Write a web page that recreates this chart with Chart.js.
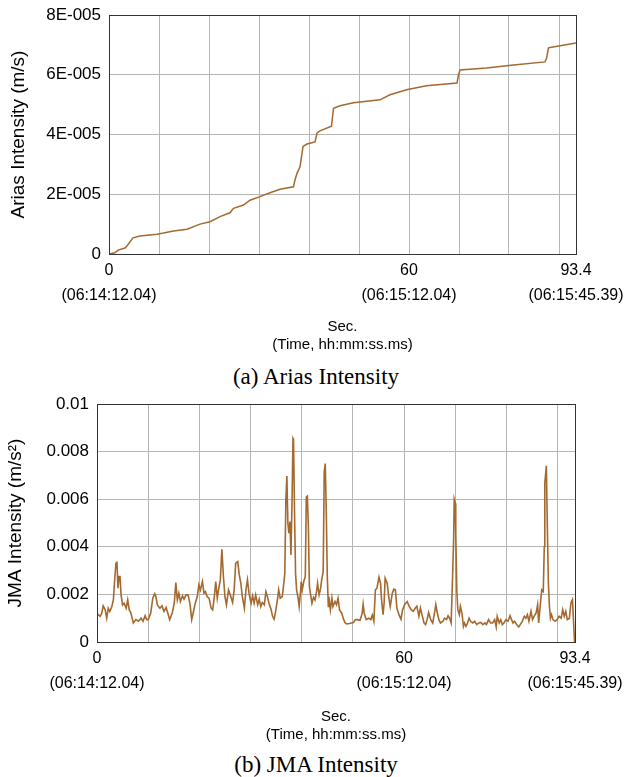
<!DOCTYPE html>
<html>

<head>
    <meta charset="utf-8">
    <title>Arias / JMA Intensity</title>
    <script src="https://cdn.jsdelivr.net/npm/chart.js@4.4.1/dist/chart.umd.min.js"></script>
    <style>
    body {
        margin: 0;
        background: #fff;
        width: 632px;
        height: 777px;
        position: relative;
        overflow: hidden;
    }

    .box {
        position: absolute;
        left: 0;
        width: 632px;
        height: 362px;
    }

    .cap {
        position: absolute;
        left: 0;
        width: 632px;
        text-align: center;
        font-family: 'Liberation Serif', 'Times New Roman', serif;
        font-size: 23px;
        line-height: 26px;
        color: #000;
    }
    </style>
</head>

<body>
    <div class="box" style="top:0px"><canvas id="arias" width="632" height="362"></canvas></div>
    <div class="cap" style="top:364px">(a) Arias Intensity</div>
    <div class="box" style="top:390px"><canvas id="jma" width="632" height="362"></canvas></div>
    <div class="cap" style="top:752px">(b) JMA Intensity</div>

    <script type="text/javascript">
    // x axis (seconds)
    var xGridSec = [0, 10, 20, 30, 40, 50, 60, 70, 80, 90, 93.4];
    var xLabelSec = [0, 60, 93.4];
    var xLabelClock = ['(06:14:12.04)', '(06:15:12.04)', '(06:15:45.39)'];

    // (a) Arias intensity, m/s
    var ariasTicks = [0, 2e-5, 4e-5, 6e-5, 8e-5];
    var ariasTickLabels = ['0', '2E-005', '4E-005', '6E-005', '8E-005'];
    var ariasSec = [0, 1.2, 1.8, 3.2, 3.5, 4.8, 6.2, 9.6, 10.9, 12.9, 15.6, 18.2, 20.2, 22.2, 24.2, 24.9,
        26.9, 28.2, 30.2, 32.2, 34.2, 36.9, 37.2, 37.6, 38.2, 38.5, 38.8, 39.6, 41.2, 41.6, 42.2, 44.5,
        44.9, 46.2, 48.9, 54.2, 56.2, 59.5, 63.5, 69.6, 69.9, 70.2, 75.5, 80.9, 87.2, 87.5, 87.9, 88.8, 93.4];
    var ariasVal = [0, 0.04e-5, 0.13e-5, 0.20e-5, 0.25e-5, 0.54e-5, 0.60e-5, 0.66e-5, 0.70e-5, 0.77e-5,
        0.83e-5, 1.00e-5, 1.08e-5, 1.25e-5, 1.38e-5, 1.53e-5, 1.64e-5, 1.80e-5, 1.92e-5, 2.05e-5, 2.17e-5,
        2.25e-5, 2.48e-5, 2.70e-5, 2.92e-5, 3.25e-5, 3.60e-5, 3.68e-5, 3.75e-5, 4.05e-5, 4.12e-5, 4.28e-5,
        4.88e-5, 4.96e-5, 5.06e-5, 5.16e-5, 5.33e-5, 5.50e-5, 5.63e-5, 5.72e-5, 6.00e-5, 6.16e-5, 6.23e-5,
        6.33e-5, 6.43e-5, 6.55e-5, 6.90e-5, 6.93e-5, 7.06e-5];

    // (b) JMA intensity, m/s^2
    var jmaTicks = [0, 0.002, 0.004, 0.006, 0.008, 0.01];
    var jmaTickLabels = ['0', '0.002', '0.004', '0.006', '0.008', '0.01'];
    var jmaSec = [0.0, 0.6, 0.9, 1.2, 1.6, 1.9, 2.2, 2.5, 2.9, 3.2, 3.5, 3.7, 3.9, 4.1, 4.3, 4.5, 4.7, 5.0,
        5.3, 5.7, 6.0, 6.3, 6.6, 7.1, 7.6, 8.1, 8.6, 9.0, 9.4, 9.7, 10.0, 10.5, 10.9, 11.3, 11.5, 11.8, 12.3,
        12.7, 13.1, 13.5, 13.8, 14.2, 14.7, 15.1, 15.4, 15.7, 16.0, 16.3, 16.7, 17.0, 17.4, 17.8, 18.2, 18.5,
        18.8, 19.2, 19.6, 19.9, 20.2, 20.6, 20.9, 21.2, 21.5, 21.9, 22.3, 22.6, 22.9, 23.2, 23.5, 23.8, 24.1,
        24.4, 24.7, 25.0, 25.3, 25.7, 26.1, 26.5, 26.8, 27.1, 27.5, 27.8, 28.1, 28.4, 28.8, 29.1, 29.4, 29.7,
        30.1, 30.4, 30.7, 31.0, 31.4, 31.7, 32.0, 32.3, 32.7, 33.0, 33.3, 33.6, 34.0, 34.3, 34.6, 34.9, 35.3,
        35.5, 35.8, 36.2, 36.5, 36.7, 36.9, 37.1, 37.3, 37.5, 37.7, 37.9, 38.1, 38.3, 38.4, 38.6, 38.8, 39.0,
        39.3, 39.5, 39.8, 39.9, 40.1, 40.4, 40.7, 40.9, 41.1, 41.3, 41.5, 41.8, 42.0, 42.3, 42.6, 42.9, 43.1,
        43.4, 43.7, 43.9, 44.2, 44.4, 44.6, 44.8, 45.0, 45.2, 45.3, 45.6, 45.9, 46.1, 46.5, 46.8, 47.1, 47.4,
        47.8, 48.2, 48.5, 48.8, 49.3, 49.7, 50.1, 50.5, 50.8, 51.4, 51.8, 52.0, 52.2, 52.6, 53.1, 53.5, 53.8,
        54.1, 54.4, 54.7, 55.1, 55.4, 55.6, 55.9, 56.1, 56.3, 56.7, 57.0, 57.3, 57.7, 58.0, 58.3, 58.6, 59.0,
        59.4, 59.7, 60.1, 60.6, 61.0, 61.4, 61.8, 62.2, 62.5, 62.9, 63.2, 63.5, 63.9, 64.2, 64.5, 64.8, 65.2,
        65.6, 66.0, 66.2, 66.5, 66.8, 67.1, 67.6, 67.9, 68.3, 68.6, 68.9, 69.2, 69.5, 69.7, 69.8, 70.0, 70.1,
        70.3, 70.5, 70.8, 71.0, 71.3, 71.6, 71.8, 72.1, 72.4, 72.7, 73.0, 73.4, 73.8, 74.2, 74.6, 75.0, 75.4,
        75.8, 76.1, 76.5, 76.9, 77.3, 77.7, 78.0, 78.2, 78.6, 78.9, 79.2, 79.5, 79.9, 80.3, 80.7, 81.0, 81.3,
        81.6, 82.0, 82.4, 82.7, 83.1, 83.5, 83.8, 84.1, 84.4, 84.8, 85.1, 85.4, 85.8, 86.1, 86.3, 86.6, 86.9,
        87.2, 87.4, 87.5, 87.8, 88.0, 88.2, 88.4, 88.6, 88.8, 89.1, 89.5, 89.9, 90.3, 90.7, 91.0, 91.3, 91.6,
        91.9, 92.3, 92.6, 92.9, 93.1, 93.3, 93.4];
    var jmaVal = [0.00119, 0.00108, 0.00119, 0.00152, 0.00135, 0.00100, 0.00142, 0.00128, 0.00149, 0.00177,
        0.00275, 0.00331, 0.00334, 0.00226, 0.00275, 0.00275, 0.00198, 0.00156, 0.00163, 0.00142, 0.00177,
        0.00135, 0.00124, 0.00080, 0.00094, 0.00087, 0.00100, 0.00087, 0.00110, 0.00094, 0.00094, 0.00122,
        0.00184, 0.00203, 0.00191, 0.00156, 0.00142, 0.00152, 0.00128, 0.00145, 0.00124, 0.00094, 0.00122,
        0.00163, 0.00250, 0.00177, 0.00205, 0.00170, 0.00194, 0.00180, 0.00198, 0.00198, 0.00156, 0.00094,
        0.00122, 0.00163, 0.00191, 0.00240, 0.00219, 0.00254, 0.00205, 0.00212, 0.00191, 0.00184, 0.00142,
        0.00135, 0.00184, 0.00254, 0.00184, 0.00226, 0.00261, 0.00390, 0.00275, 0.00191, 0.00156, 0.00219,
        0.00194, 0.00166, 0.00219, 0.00331, 0.00338, 0.00282, 0.00247, 0.00191, 0.00142, 0.00219, 0.00261,
        0.00205, 0.00163, 0.00194, 0.00163, 0.00198, 0.00156, 0.00180, 0.00149, 0.00166, 0.00156, 0.00212,
        0.00191, 0.00163, 0.00138, 0.00108, 0.00096, 0.00128, 0.00184, 0.00219, 0.00184, 0.00191, 0.00247,
        0.00289, 0.00596, 0.00697, 0.00499, 0.00457, 0.00506, 0.00366, 0.00582, 0.00855, 0.00850, 0.00540,
        0.00289, 0.00219, 0.00184, 0.00149, 0.00219, 0.00254, 0.00219, 0.00254, 0.00275, 0.00610, 0.00613,
        0.00485, 0.00233, 0.00191, 0.00163, 0.00188, 0.00177, 0.00212, 0.00247, 0.00198, 0.00226, 0.00261,
        0.00296, 0.00715, 0.00750, 0.00547, 0.00275, 0.00149, 0.00191, 0.00135, 0.00184, 0.00149, 0.00170,
        0.00156, 0.00184, 0.00135, 0.00122, 0.00094, 0.00080, 0.00076, 0.00078, 0.00080, 0.00082, 0.00094,
        0.00094, 0.00091, 0.00119, 0.00159, 0.00122, 0.00094, 0.00100, 0.00094, 0.00113, 0.00087, 0.00219,
        0.00226, 0.00272, 0.00247, 0.00177, 0.00115, 0.00163, 0.00268, 0.00247, 0.00191, 0.00149, 0.00205,
        0.00222, 0.00219, 0.00142, 0.00115, 0.00096, 0.00135, 0.00157, 0.00170, 0.00150, 0.00136, 0.00129,
        0.00143, 0.00150, 0.00108, 0.00143, 0.00115, 0.00080, 0.00073, 0.00094, 0.00124, 0.00094, 0.00080,
        0.00129, 0.00157, 0.00122, 0.00094, 0.00080, 0.00087, 0.00100, 0.00094, 0.00110, 0.00100, 0.00080,
        0.00290, 0.00443, 0.00600, 0.00583, 0.00457, 0.00219, 0.00136, 0.00115, 0.00150, 0.00122, 0.00066,
        0.00080, 0.00066, 0.00080, 0.00100, 0.00087, 0.00080, 0.00087, 0.00073, 0.00080, 0.00082, 0.00073,
        0.00080, 0.00073, 0.00094, 0.00080, 0.00080, 0.00094, 0.00063, 0.00108, 0.00080, 0.00094, 0.00073,
        0.00080, 0.00094, 0.00087, 0.00110, 0.00094, 0.00080, 0.00087, 0.00073, 0.00063, 0.00073, 0.00087,
        0.00108, 0.00100, 0.00115, 0.00087, 0.00129, 0.00094, 0.00108, 0.00122, 0.00157, 0.00080, 0.00152,
        0.00219, 0.00212, 0.00401, 0.00667, 0.00740, 0.00478, 0.00247, 0.00150, 0.00100, 0.00115, 0.00094,
        0.00087, 0.00094, 0.00108, 0.00100, 0.00136, 0.00108, 0.00129, 0.00094, 0.00100, 0.00164, 0.00178,
        0.00094, 0.00003, 0];

    var lineColor = '#a3692f';
    var gridColor = '#b5b5b5';

    Chart.defaults.font.family = "'Liberation Sans', Arial, sans-serif";
    Chart.defaults.color = '#000';

    // dark frame round the plot area
    var frame = {
        id: 'frame',
        afterDraw: function(chart) {
            var a = chart.chartArea;
            var c = chart.ctx;
            c.save();
            c.strokeStyle = '#333';
            c.lineWidth = 1;
            c.strokeRect(Math.round(a.left) + 0.5, Math.round(a.top) + 0.5,
                Math.round(a.right - a.left), Math.round(a.bottom - a.top));
            c.restore();
        }
    };

    function points(xs, ys) {
        return xs.map(function(t, i) { return { x: t, y: ys[i] }; });
    }

    function makeChart(id, xs, ys, yTicks, yLabels, yTitle, o) {
        return new Chart(document.getElementById(id), {
            type: 'line',
            data: {
                datasets: [{
                    data: points(xs, ys),
                    borderColor: lineColor,
                    borderWidth: o.lw,
                    pointRadius: 0,
                    tension: 0,
                    fill: false
                }]
            },
            plugins: [frame],
            options: {
                responsive: false,
                animation: false,
                events: [],
                layout: { padding: { top: o.top, right: o.right, bottom: 8, left: 0 } },
                plugins: { legend: { display: false }, tooltip: { enabled: false } },
                scales: {
                    x: {
                        type: 'linear',
                        min: 0,
                        max: 93.4,
                        afterBuildTicks: function(s) {
                            s.ticks = xGridSec.map(function(v) { return { value: v }; });
                        },
                        afterFit: function(s) {
                            s.height = o.xh;
                            s.paddingLeft = 0;
                            s.paddingRight = 0;
                        },
                        grid: { color: gridColor, drawTicks: false },
                        border: { color: '#333' },
                        ticks: {
                            autoSkip: false,
                            maxRotation: 0,
                            padding: 4,
                            font: { size: 16, lineHeight: 1.56 },
                            callback: function(v) {
                                var k = xLabelSec.indexOf(v);
                                return k < 0 ? '' : [String(v), xLabelClock[k]];
                            }
                        },
                        title: {
                            display: true,
                            text: ['Sec.', '(Time, hh:mm:ss.ms)'],
                            font: { size: 15, lineHeight: 1.2 },
                            padding: { top: 6, bottom: 0 }
                        }
                    },
                    y: {
                        min: 0,
                        max: yTicks[yTicks.length - 1],
                        afterBuildTicks: function(s) {
                            s.ticks = yTicks.map(function(v) { return { value: v }; });
                        },
                        afterFit: function(s) {
                            s.width = o.yw;
                            s.paddingTop = 0;
                            s.paddingBottom = 0;
                        },
                        grid: { color: gridColor, drawTicks: false },
                        border: { color: '#333' },
                        ticks: {
                            padding: 8,
                            font: { size: 17 },
                            callback: function(v) {
                                var k = yTicks.indexOf(v);
                                return k < 0 ? '' : yLabels[k];
                            }
                        },
                        title: {
                            display: true,
                            text: yTitle,
                            font: { size: 19, lineHeight: 1.2 },
                            padding: { top: o.tp, bottom: 0 }
                        }
                    }
                }
            }
        });
    }

    makeChart('arias', ariasSec, ariasVal, ariasTicks, ariasTickLabels, 'Arias Intensity (m/s)', {
        top: 15, right: 56, xh: 100, yw: 109, tp: 7, lw: 1.5
    });
    makeChart('jma', jmaSec, jmaVal, jmaTicks, jmaTickLabels, 'JMA Intensity (m/s²)', {
        top: 14, right: 57, xh: 102, yw: 97, tp: 4, lw: 1.6
    });
    </script>
</body>

</html>
